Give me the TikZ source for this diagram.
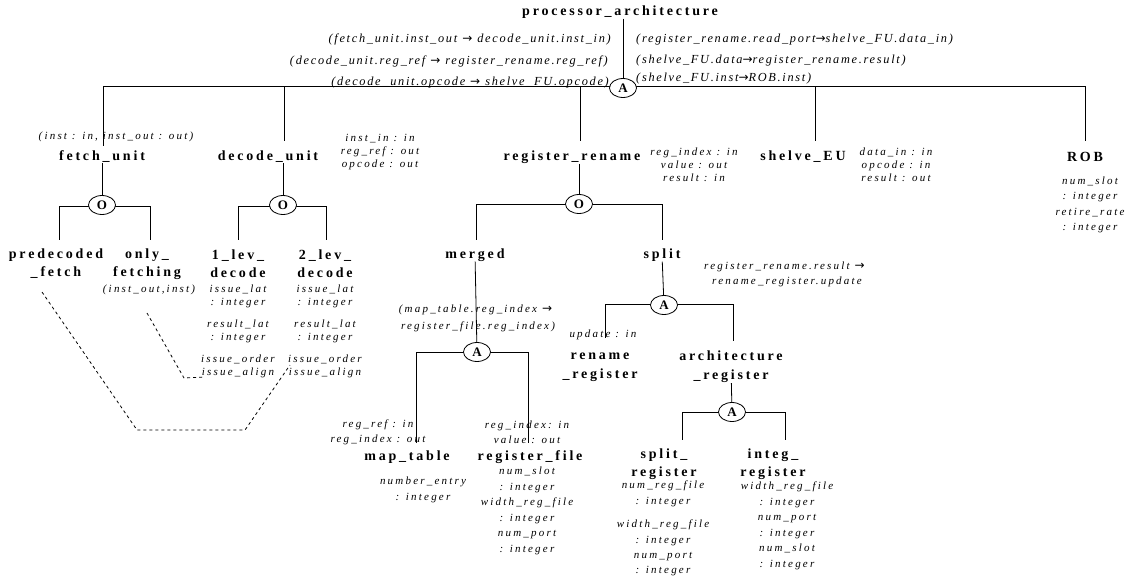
\documentclass[tikz,border=0pt]{standalone}
\usepackage{fontspec}
\usetikzlibrary{shapes.geometric}
\newfontfamily\nmfont[LetterSpace=20]{Liberation Serif}
\newfontfamily\atfont[LetterSpace=20]{Liberation Serif}
\newfontfamily\cnfont[LetterSpace=14]{Liberation Serif}
\newfontfamily\arrfont{DejaVu Sans}
\newcommand{\myarr}{{\arrfont\upshape\fontsize{12}{12}\selectfont →}}
\newcommand{\myarrs}{\kern5pt\myarr\kern5pt}
\tikzset{
  nm/.style={font=\nmfont\bfseries\fontsize{14}{18}\selectfont, inner sep=0pt, align=center},
  nmb/.style={font=\nmfont\bfseries\fontsize{14}{19}\selectfont, inner sep=0pt, align=center},
  atr/.style={font=\atfont\itshape\fontsize{11}{13}\selectfont, inner sep=0pt, align=center},
  atrw/.style={font=\atfont\itshape\fontsize{11}{15.5}\selectfont, inner sep=0pt, align=center},
  cn/.style={font=\cnfont\itshape\fontsize{12.3}{14}\selectfont, inner sep=0pt},
  op/.style={draw, ellipse, fill=white, line width=0.8pt, minimum width=27pt, minimum height=19pt, inner sep=0pt, font=\rmfamily\bfseries\fontsize{13}{13}\selectfont},
  ln/.style={line width=0.8pt},
  dsh/.style={line width=0.8pt, dash pattern=on 3pt off 3pt}
}
\setmainfont{Liberation Serif}
\begin{document}
\begin{tikzpicture}[x=1pt,y=-1pt]
\useasboundingbox[fill=white] (0,0) rectangle (1126,581);
% ---------- top level ----------
\node[nm] (root) at (620,12) {processor\_architecture};
\node[cn, anchor=east] (cl1) at (611,39) {(fetch\_unit.inst\_out\myarrs{}decode\_unit.inst\_in)};
\node[cn, anchor=east] (cl2) at (608,61) {(decode\_unit.reg\_ref\myarrs{}register\_rename.reg\_ref)};
\node[cn, anchor=east] (cl3) at (609,83) {(decode\_unit.opcode\myarrs{}shelve\_FU.opcode)};
\node[cn, anchor=west] (cr1) at (636,40) {(register\_rename.read\_port\myarr{}shelve\_FU.data\_in)};
\node[cn, anchor=west] (cr2) at (636,61) {(shelve\_FU.data\myarr{}register\_rename.result)};
\node[cn, anchor=west] (cr3) at (636,79) {(shelve\_FU.inst\myarr{}ROB.inst)};
\coordinate (b1) at (103,86);
\coordinate (b2) at (284,86);
\coordinate (b3) at (580,86);
\coordinate (b4) at (815,86);
\coordinate (b5) at (1085,86);
\coordinate (e1) at (103,146);
\coordinate (e2) at (284,141);
\coordinate (e3) at (580,141);
\coordinate (e4) at (815,141);
\coordinate (e5) at (1085,141);
\draw[ln] (b1) -- (b5);
\draw[ln] (b1) -- (e1);
\draw[ln] (b2) -- (e2);
\draw[ln] (b3) -- (e3);
\draw[ln] (b4) -- (e4);
\draw[ln] (b5) -- (e5);
\node[op] (rA) at (623,88) {A};
\draw[ln] (root.south -| rA) -- (rA);
% ---------- second level ----------
\node[atr] (fuL) at (116,137) {(inst : in, inst\_out : out)};
\node[nm] (fu) at (102,157) {fetch\_unit};
\node[nm] (du) at (268,157) {decode\_unit};
\node[atr] (duA) at (380,152) {inst\_in : in\\reg\_ref : out\\opcode : out};
\node[nm] (rr) at (572,157) {register\_rename};
\node[atr] (rrA) at (694,165) {reg\_index : in\\value : out\\result : in};
\node[nm] (se) at (803,157) {shelve\_EU};
\node[atr] (seA) at (896,165) {data\_in : in\\opcode : in\\result : out};
\node[nm] (rob) at (1085,157) {ROB};
\node[atrw] (robA) at (1090,205) {num\_slot\\: integer\\retire\_rate\\: integer};
% ---------- fetch_unit ----------
\coordinate (fL) at (59,206);
\coordinate (fR) at (150,206);
\coordinate (fLe) at (59,240);
\coordinate (fRe) at (150,240);
\draw[ln] (fL) -- (fR);
\draw[ln] (fL) -- (fLe);
\draw[ln] (fR) -- (fRe);
\node[op] (fO) at (102,205) {O};
\draw[ln] (fu) -- (fO);
\node[nm] (pf) at (56,264) {predecoded\\\_fetch};
\node[nm] (of) at (147,264) {only\_\\fetching};
\node[atr] (ofL) at (149,290) {(inst\_out,inst)};
% ---------- decode_unit ----------
\coordinate (dL) at (238,206);
\coordinate (dR) at (326,206);
\coordinate (dLe) at (238,240);
\coordinate (dRe) at (326,240);
\draw[ln] (dL) -- (dR);
\draw[ln] (dL) -- (dLe);
\draw[ln] (dR) -- (dRe);
\node[op] (dO) at (283,205) {O};
\draw[ln] (du.south -| dO) -- (dO);
\node[nm] (l1) at (238,264) {1\_lev\_\\decode};
\node[nm] (l2) at (325,264) {2\_lev\_\\decode};
\node[atr] (l1a) at (238,296.5) {issue\_lat\\: integer};
\node[atr] (l1b) at (238,331.5) {result\_lat\\: integer};
\node[atr] (l1c) at (238,366.5) {issue\_order\\issue\_align};
\node[atr] (l2a) at (325,296.5) {issue\_lat\\: integer};
\node[atr] (l2b) at (325,331.5) {result\_lat\\: integer};
\node[atr] (l2c) at (325,366.5) {issue\_order\\issue\_align};
% dashed constraint lines
\coordinate (dA) at (42,292);
\coordinate (dB) at (137,430);
\coordinate (dC) at (245,430);
\coordinate (dD) at (290,365);
\draw[dsh] (dA) -- (dB) -- (dC) -- (dD);
\coordinate (mA1) at (147,313);
\coordinate (mA2) at (184,378);
\coordinate (mA3) at (205,377);
\draw[dsh] (mA1) -- (mA2) -- (mA3);
% ---------- register_rename ----------
\coordinate (rL) at (476,204);
\coordinate (rR) at (662,204);
\coordinate (rLe) at (476,240);
\coordinate (rRe) at (662,240);
\draw[ln] (rL) -- (rR);
\draw[ln] (rL) -- (rLe);
\draw[ln] (rR) -- (rRe);
\node[op] (rO) at (579,204) {O};
\draw[ln] (rr.south -| rO) -- (rO);
\node[nm] (mg) at (475,255) {merged};
\node[nm] (sp) at (662,255) {split};
% merged
\node[atr, font=\atfont\itshape\fontsize{11}{17}\selectfont] (mgL) at (478,318) {(map\_table.reg\_index\myarrs\\register\_file.reg\_index)};
\coordinate (mL) at (416,352);
\coordinate (mR) at (528,352);
\coordinate (mLe) at (416,443);
\coordinate (mRe) at (528,443);
\draw[ln] (mL) -- (mR);
\draw[ln] (mL) -- (mLe);
\draw[ln] (mR) -- (mRe);
\node[op] (mA) at (477,352) {A};
\draw[ln] (mg) -- (mA);
\node[atr, font=\atfont\itshape\fontsize{11}{15}\selectfont] (mtL) at (378,432) {reg\_ref : in\\reg\_index : out};
\node[atr, font=\atfont\itshape\fontsize{11}{15}\selectfont] (rfL) at (527,432) {reg\_index: in\\value : out};
\node[nm] (mt) at (407,457) {map\_table};
\node[nm] (rf) at (530,457) {register\_file};
\node[atrw] (mtA) at (423,490) {number\_entry\\: integer};
\node[atrw] (rfA) at (527,511) {num\_slot\\: integer\\width\_reg\_file\\: integer\\num\_port\\: integer};
% split
\node[atr, font=\atfont\itshape\fontsize{11}{15}\selectfont] (spL) at (787,274) {register\_rename.result\myarrs\\rename\_register.update};
\coordinate (sL) at (605,304);
\coordinate (sR) at (733,304);
\coordinate (sLe) at (605,338);
\coordinate (sRe) at (733,341);
\draw[ln] (sL) -- (sR);
\draw[ln] (sL) -- (sLe);
\draw[ln] (sR) -- (sRe);
\node[op] (sA) at (664,305) {A};
\draw[ln] (sp) -- (sA);
\node[atr] (upd) at (603,335) {update : in};
\node[nmb] (rnr) at (600,367) {rename\\\_register};
\node[nmb] (arr) at (731,367) {architecture\\\_register};
\coordinate (aL) at (682,412);
\coordinate (aR) at (785,412);
\coordinate (aLe) at (682,440);
\coordinate (aRe) at (785,440);
\draw[ln] (aL) -- (aR);
\draw[ln] (aL) -- (aLe);
\draw[ln] (aR) -- (aRe);
\node[op] (aA) at (732,412) {A};
\draw[ln] (arr) -- (aA);
\node[nm] (srg) at (664,464) {split\_\\register};
\node[nm] (irg) at (773,464) {integ\_\\register};
\node[atrw] (srgA) at (663,494) {num\_reg\_file\\: integer};
\node[atrw] (srgB) at (663,533) {width\_reg\_file\\: integer};
\node[atrw] (srgC) at (663,564) {num\_port\\: integer};
\node[atrw] (irgA) at (787,526) {width\_reg\_file\\: integer\\num\_port\\: integer\\num\_slot\\: integer};
\end{tikzpicture}
\end{document}
